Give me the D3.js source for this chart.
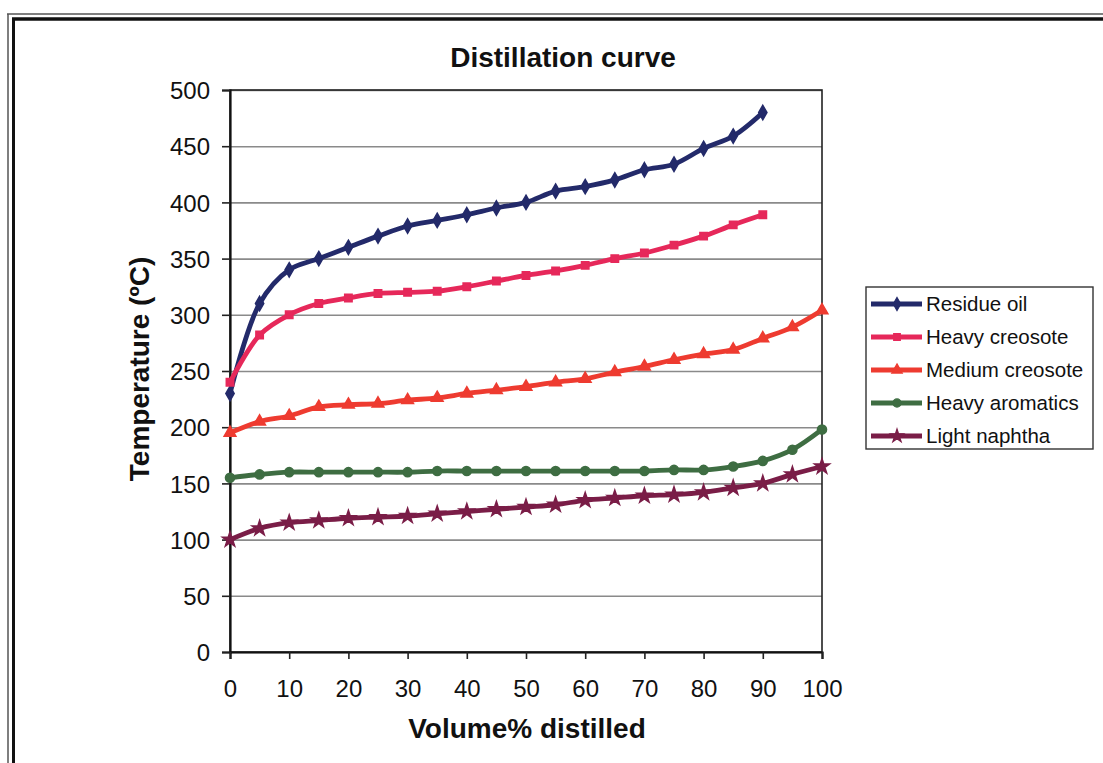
<!DOCTYPE html>
<html>
<head>
<meta charset="utf-8">
<script src="https://cdn.jsdelivr.net/npm/d3@7"></script>
<style>
  html, body { margin: 0; padding: 0; background: #fff; }
  svg { display: block; font-family: "Liberation Sans", Arial, Helvetica, sans-serif; }
</style>
</head>
<body>
<svg id="chart" width="1103" height="763"></svg>
<script>
// Distillation curves: temperature (°C) against volume % distilled
const volume = d3.range(0, 101, 5);

const residueOil     = [230, 310, 340, 350, 360, 370, 379, 384, 389, 395, 400, 410, 414, 420, 429, 434, 448, 459, 480];
const heavyCreosote  = [240, 282, 300, 310, 315, 319, 320, 321, 325, 330, 335, 339, 344, 350, 355, 362, 370, 380, 389];
const mediumCreosote = [195, 205, 210, 218, 220, 221, 224, 226, 230, 233, 236, 240, 243, 249, 254, 260, 265, 269, 279, 289, 304];
const heavyAromatics = [155, 158, 160, 160, 160, 160, 160, 161, 161, 161, 161, 161, 161, 161, 161, 162, 162, 165, 170, 180, 198];
const lightNaphtha   = [100, 110, 115, 117, 119, 120, 121, 123, 125, 127, 129, 131, 135, 137, 139, 140, 142, 146, 150, 158, 165];

const seriesNames  = ["Residue oil", "Heavy creosote", "Medium creosote", "Heavy aromatics", "Light naphtha"];
const seriesValues = [residueOil, heavyCreosote, mediumCreosote, heavyAromatics, lightNaphtha];
const seriesColors = ["#232a6a", "#e6285a", "#ee3b30", "#3e6d42", "#7a1d47"];
const seriesSymbols = [d3.symbolDiamond, d3.symbolSquare, d3.symbolTriangle, d3.symbolCircle, d3.symbolStar];

const xTicks = d3.range(0, 101, 10);
const yTicks = d3.range(0, 501, 50);

const chartTitle = "Distillation curve";
const xTitle = "Volume% distilled";
const yTitle = "Temperature (ºC)";

const svg = d3.select("#chart");

// page frame
const frame = svg.append("g");
frame.append("line").attr("x1", 7).attr("x2", 1103).attr("y1", 14).attr("y2", 14)
  .attr("stroke", "#555").attr("stroke-width", 1.5);
frame.append("line").attr("x1", 12).attr("x2", 1103).attr("y1", 19).attr("y2", 19)
  .attr("stroke", "#111").attr("stroke-width", 3.5);
frame.append("line").attr("x1", 8).attr("x2", 8).attr("y1", 14).attr("y2", 763)
  .attr("stroke", "#555").attr("stroke-width", 1.5);
frame.append("line").attr("x1", 13.5).attr("x2", 13.5).attr("y1", 19).attr("y2", 763)
  .attr("stroke", "#111").attr("stroke-width", 3);

const plot = { left: 230, right: 822, top: 90, bottom: 652 };

const x = d3.scaleLinear().domain([0, 100]).range([plot.left, plot.right]);
const y = d3.scaleLinear().domain([0, 500]).range([plot.bottom, plot.top]);

// gridlines
svg.append("g")
  .attr("transform", `translate(${plot.left},0)`)
  .call(d3.axisLeft(y).tickValues(yTicks).tickSize(-(plot.right - plot.left)).tickFormat(""))
  .call(g => g.select(".domain").remove())
  .call(g => g.selectAll("line").attr("stroke", "#8a8a8a").attr("stroke-width", 1.6));

// plot area border
svg.append("rect")
  .attr("x", plot.left).attr("y", plot.top)
  .attr("width", plot.right - plot.left).attr("height", plot.bottom - plot.top)
  .attr("fill", "none").attr("stroke", "#222").attr("stroke-width", 1.6);

// y axis
const yAxis = svg.append("g")
  .attr("transform", `translate(${plot.left},0)`)
  .call(d3.axisLeft(y).tickValues(yTicks).tickSize(8).tickPadding(12));
yAxis.select(".domain").attr("stroke", "#111").attr("stroke-width", 2.2);
yAxis.selectAll(".tick line").attr("stroke", "#222").attr("stroke-width", 1.6);
yAxis.selectAll("text").attr("font-size", 24).attr("fill", "#111").attr("dy", "0.36em");

// x axis
const xAxis = svg.append("g")
  .attr("transform", `translate(0,${plot.bottom})`)
  .call(d3.axisBottom(x).tickValues(xTicks).tickSize(7).tickPadding(21));
xAxis.select(".domain").attr("stroke", "#111").attr("stroke-width", 2.2);
xAxis.selectAll(".tick line").attr("stroke", "#222").attr("stroke-width", 1.6);
xAxis.selectAll("text").attr("font-size", 24).attr("fill", "#111");

// titles
svg.append("text").attr("x", 563).attr("y", 67).attr("text-anchor", "middle")
  .attr("font-size", 28).attr("font-weight", "bold").attr("fill", "#111").text(chartTitle);
svg.append("text").attr("x", 527).attr("y", 738).attr("text-anchor", "middle")
  .attr("font-size", 28).attr("font-weight", "bold").attr("fill", "#111").text(xTitle);
svg.append("text").attr("transform", "translate(149,369) rotate(-90)").attr("text-anchor", "middle")
  .attr("font-size", 28).attr("font-weight", "bold").attr("fill", "#111").text(yTitle);

// series
const line = d3.line()
  .x((d, i) => x(volume[i]))
  .y(d => y(d))
  .curve(d3.curveCatmullRom.alpha(0.5));

const symbolSizes = [60, 55, 60, 65, 70];

seriesValues.forEach((vals, k) => {
  const g = svg.append("g");
  g.append("path").datum(vals)
    .attr("d", line)
    .attr("fill", "none")
    .attr("stroke", seriesColors[k])
    .attr("stroke-width", 4.8)
    .attr("stroke-linejoin", "round");
  g.selectAll("path.mark").data(vals).join("path")
    .attr("class", "mark")
    .attr("transform", (d, i) => `translate(${x(volume[i])},${y(d)})`)
    .attr("d", d3.symbol().type(seriesSymbols[k]).size(symbolSizes[k]))
    .attr("fill", seriesColors[k])
    .attr("stroke", seriesColors[k])
    .attr("stroke-width", 1.5);
});

// legend
const legend = svg.append("g");
legend.append("rect").attr("x", 866).attr("y", 287).attr("width", 227).attr("height", 162)
  .attr("fill", "#fff").attr("stroke", "#333").attr("stroke-width", 1.4);
const rowY = [304, 337, 370, 403, 436];
seriesNames.forEach((name, k) => {
  const r = legend.append("g").attr("transform", `translate(0,${rowY[k]})`);
  r.append("line").attr("x1", 871).attr("x2", 922).attr("y1", 0).attr("y2", 0)
    .attr("stroke", seriesColors[k]).attr("stroke-width", 4.8);
  r.append("path").attr("transform", "translate(897,0)")
    .attr("d", d3.symbol().type(seriesSymbols[k]).size(symbolSizes[k] * 0.8))
    .attr("fill", seriesColors[k]).attr("stroke", seriesColors[k]).attr("stroke-width", 1.2);
  r.append("text").attr("x", 926).attr("y", 0).attr("dy", "0.35em")
    .attr("font-size", 20.5).attr("fill", "#111").text(name);
});
</script>
</body>
</html>
